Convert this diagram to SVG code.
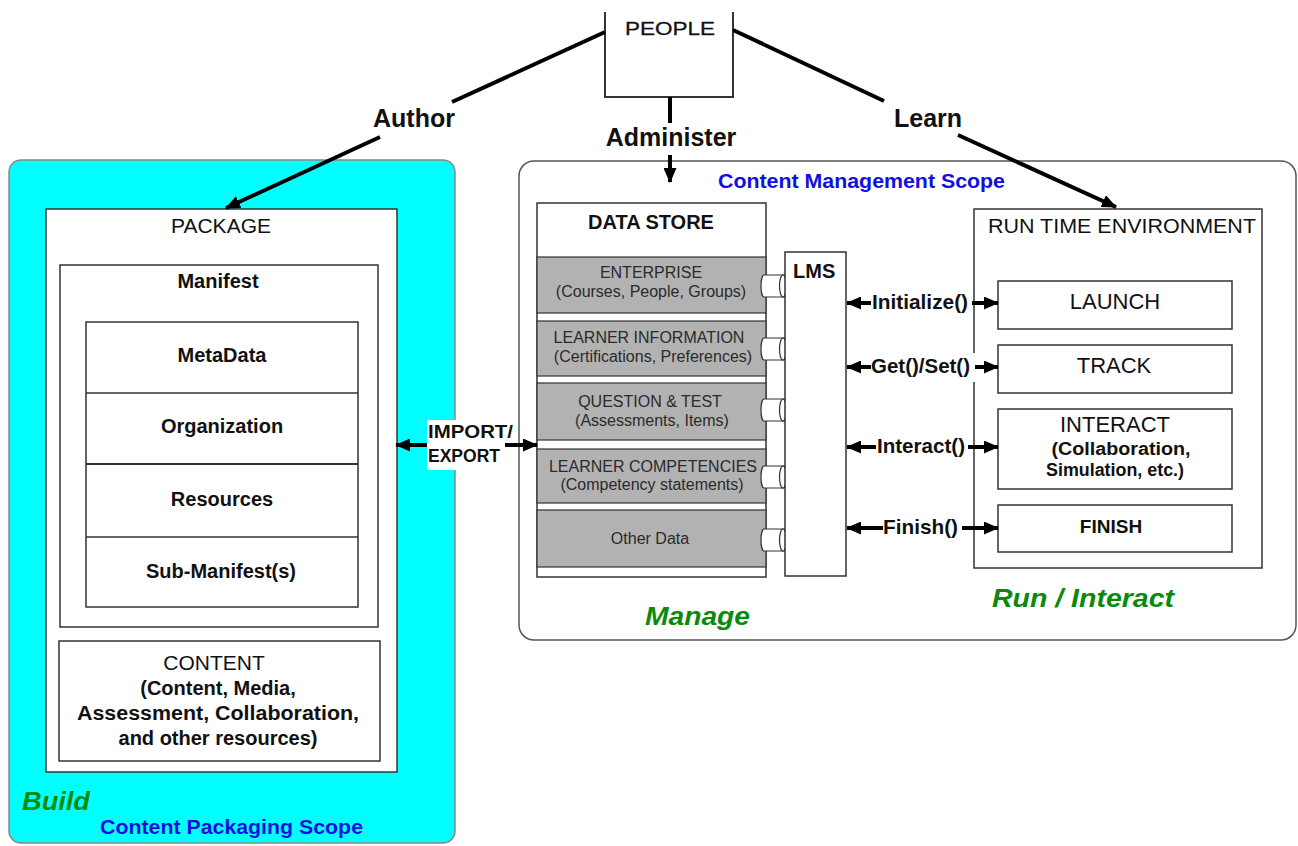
<svg xmlns="http://www.w3.org/2000/svg" width="1298" height="846" viewBox="0 0 1298 846">
<defs>
<style>
text{font-family:'Liberation Sans',Arial,sans-serif;fill:#111}
.b{font-weight:bold}
.box{fill:#fff;stroke:#333;stroke-width:1.5}
.band{fill:#b2b2b2;stroke:#333;stroke-width:1.2}
.ds{font-size:16px;fill:#2a2a2a;text-anchor:middle}
.c{text-anchor:middle}
.big{font-size:25px;font-weight:bold;text-anchor:middle}
.api{font-size:21px;font-weight:bold}
.green{fill:#0a8a0a;font-weight:bold;font-style:italic}
.blue{fill:#1010e0;font-weight:bold}
.thick{stroke:#000;stroke-width:4;fill:none}
.arr{stroke:#000;stroke-width:4;fill:none}
.cyl{fill:#fff;stroke:#333;stroke-width:1.2}
</style>
<marker id="ah" viewBox="0 0 15 13" refX="14" refY="6.5" markerWidth="15" markerHeight="13" markerUnits="userSpaceOnUse" orient="auto">
<path d="M0,0 L15,6.5 L0,13 z" fill="#000"/>
</marker>
</defs>
<rect width="1298" height="846" fill="#fff"/>

<g id="packaging-scope">
<rect x="9" y="160" width="446" height="683" rx="12" fill="#00ffff" stroke="#888" stroke-width="1.5"/>
<text x="22" y="810" class="green" font-size="25" textLength="68" lengthAdjust="spacingAndGlyphs">Build</text>
<text x="100" y="834" class="blue" font-size="20" textLength="263" lengthAdjust="spacingAndGlyphs">Content Packaging Scope</text>
</g>

<g id="management-scope">
<rect x="519" y="161" width="777" height="479" rx="15" fill="#fff" stroke="#555" stroke-width="1.5"/>
<text x="718" y="188" class="blue" font-size="20" textLength="287" lengthAdjust="spacingAndGlyphs">Content Management Scope</text>
<text x="645" y="625" class="green" font-size="26" textLength="105" lengthAdjust="spacingAndGlyphs">Manage</text>
<text x="992" y="607" class="green" font-size="25" textLength="182" lengthAdjust="spacingAndGlyphs">Run / Interact</text>
</g>

<g id="people">
<path d="M605,12 L605,97 L733,97 L733,12" fill="#fff" stroke="#333" stroke-width="2"/>
<text x="625" y="35" font-size="19" textLength="90" lengthAdjust="spacingAndGlyphs" stroke="#111" stroke-width="0.3">PEOPLE</text>
</g>

<g id="package">
<rect class="box" x="46" y="209" width="351" height="563"/>
<text x="221" y="233" class="c" font-size="21">PACKAGE</text>
</g>

<g id="manifest">
<rect class="box" x="60" y="265" width="318" height="362"/>
<text x="218" y="288" class="c b" font-size="20">Manifest</text>
</g>

<g id="manifest-items">
<rect class="box" x="86" y="322" width="272" height="285"/>
<line x1="86" y1="393" x2="358" y2="393" stroke="#333" stroke-width="1.5"/>
<line x1="86" y1="464" x2="358" y2="464" stroke="#333" stroke-width="2"/>
<line x1="86" y1="537" x2="358" y2="537" stroke="#333" stroke-width="1.5"/>
<text x="222" y="362" class="c b" font-size="20">MetaData</text>
<text x="222" y="433" class="c b" font-size="20">Organization</text>
<text x="222" y="506" class="c b" font-size="20">Resources</text>
<text x="221" y="578" class="c b" font-size="20">Sub-Manifest(s)</text>
</g>

<g id="content">
<rect class="box" x="59" y="641" width="321" height="120"/>
<text x="214" y="670" class="c" font-size="21">CONTENT</text>
<text x="218" y="695" class="c b" font-size="20">(Content, Media,</text>
<text x="218" y="720" class="c b" font-size="20" textLength="282" lengthAdjust="spacingAndGlyphs">Assessment,  Collaboration,</text>
<text x="218" y="745" class="c b" font-size="20">and other resources)</text>
</g>

<g id="data-store">
<rect class="box" x="537" y="203" width="229" height="374"/>
<text x="651" y="229" class="c b" font-size="20">DATA STORE</text>
<rect class="band" x="537" y="257" width="229" height="56"/>
<rect class="band" x="537" y="321" width="229" height="55"/>
<rect class="band" x="537" y="383" width="229" height="57"/>
<rect class="band" x="537" y="449" width="229" height="54"/>
<rect class="band" x="537" y="510" width="229" height="57"/>
<text x="651" y="278" class="ds">ENTERPRISE</text>
<text x="651" y="297" class="ds">(Courses, People, Groups)</text>
<text x="649" y="343" class="ds">LEARNER INFORMATION</text>
<text x="653" y="362" class="ds">(Certifications, Preferences)</text>
<text x="650" y="407" class="ds">QUESTION &amp; TEST</text>
<text x="652" y="426" class="ds">(Assessments, Items)</text>
<text x="653" y="472" class="ds">LEARNER COMPETENCIES</text>
<text x="652" y="490" class="ds">(Competency statements)</text>
<text x="650" y="544" class="ds" font-size="15">Other Data</text>
</g>

<g id="lms-links">
<path class="cyl" d="M764,275 L784,275 L784,297 L764,297 A3,11 0 0 1 764,275 z"/>
<ellipse class="cyl" cx="783" cy="286" rx="3.5" ry="11"/>
<path class="cyl" d="M764,338 L784,338 L784,360 L764,360 A3,11 0 0 1 764,338 z"/>
<ellipse class="cyl" cx="783" cy="349" rx="3.5" ry="11"/>
<path class="cyl" d="M764,399 L784,399 L784,421 L764,421 A3,11 0 0 1 764,399 z"/>
<ellipse class="cyl" cx="783" cy="410" rx="3.5" ry="11"/>
<path class="cyl" d="M764,466 L784,466 L784,488 L764,488 A3,11 0 0 1 764,466 z"/>
<ellipse class="cyl" cx="783" cy="477" rx="3.5" ry="11"/>
<path class="cyl" d="M764,529 L784,529 L784,551 L764,551 A3,11 0 0 1 764,529 z"/>
<ellipse class="cyl" cx="783" cy="540" rx="3.5" ry="11"/>
</g>

<g id="lms">
<rect class="box" x="785" y="252" width="61" height="324"/>
<text x="793" y="278" class="b" font-size="20">LMS</text>
</g>

<g id="rte">
<rect class="box" x="974" y="209" width="288" height="359"/>
<text x="1122" y="233" class="c" font-size="21" textLength="268" lengthAdjust="spacingAndGlyphs">RUN TIME ENVIRONMENT</text>
</g>

<g id="launch">
<rect class="box" x="998" y="281" width="234" height="48"/>
<text x="1115" y="309" class="c" font-size="22">LAUNCH</text>
</g>
<g id="track">
<rect class="box" x="998" y="345" width="234" height="48"/>
<text x="1114" y="373" class="c" font-size="22">TRACK</text>
</g>
<g id="interact">
<rect class="box" x="998" y="409" width="234" height="80"/>
<text x="1115" y="432" class="c" font-size="22">INTERACT</text>
<text x="1121" y="455" class="c b" font-size="18" textLength="139" lengthAdjust="spacingAndGlyphs">(Collaboration,</text>
<text x="1115" y="476" class="c b" font-size="18" textLength="138" lengthAdjust="spacingAndGlyphs">Simulation, etc.)</text>
</g>
<g id="finish">
<rect class="box" x="998" y="505" width="234" height="47"/>
<text x="1111" y="533" class="c b" font-size="19">FINISH</text>
</g>

<g id="connectors">
<line class="thick" x1="605" y1="32" x2="452" y2="102"/>
<line class="arr" x1="380" y1="137" x2="226" y2="208" marker-end="url(#ah)"/>
<text x="414" y="127" class="big">Author</text>
<line class="thick" x1="670" y1="97" x2="670" y2="123" stroke-width="3.5"/>
<text x="671" y="146" class="big">Administer</text>
<line class="arr" x1="670" y1="155" x2="670" y2="182" marker-end="url(#ah)"/>
<line class="thick" x1="733" y1="30" x2="884" y2="101"/>
<text x="928" y="127" class="big">Learn</text>
<line class="arr" x1="958" y1="135" x2="1116" y2="207" marker-end="url(#ah)"/>
<rect x="427" y="420" width="89" height="50" fill="#fff"/>
<text x="428" y="438" class="b" font-size="18" textLength="85" lengthAdjust="spacingAndGlyphs">IMPORT/</text>
<text x="428" y="462" class="b" font-size="18" textLength="72" lengthAdjust="spacingAndGlyphs">EXPORT</text>
<line class="arr" x1="427" y1="445" x2="396" y2="445" marker-end="url(#ah)"/>
<line class="arr" x1="505" y1="445" x2="537" y2="445" marker-end="url(#ah)"/>
<rect x="869" y="290" width="100" height="26" fill="#fff"/>
<text x="872" y="309" class="api" textLength="96" lengthAdjust="spacingAndGlyphs">Initialize()</text>
<line class="arr" x1="871" y1="303" x2="847" y2="303" marker-end="url(#ah)"/>
<line class="arr" x1="972" y1="303" x2="998" y2="303" marker-end="url(#ah)"/>
<rect x="869" y="353" width="108" height="29" fill="#fff"/>
<text x="871" y="373" class="api" textLength="99" lengthAdjust="spacingAndGlyphs">Get()/Set()</text>
<line class="arr" x1="871" y1="367" x2="847" y2="367" marker-end="url(#ah)"/>
<line class="arr" x1="975" y1="367" x2="998" y2="367" marker-end="url(#ah)"/>
<rect x="875" y="434" width="92" height="26" fill="#fff"/>
<text x="877" y="453" class="api" textLength="88" lengthAdjust="spacingAndGlyphs">Interact()</text>
<line class="arr" x1="876" y1="447" x2="847" y2="447" marker-end="url(#ah)"/>
<line class="arr" x1="968" y1="447" x2="998" y2="447" marker-end="url(#ah)"/>
<rect x="882" y="514" width="78" height="26" fill="#fff"/>
<text x="883" y="534" class="api" textLength="75" lengthAdjust="spacingAndGlyphs">Finish()</text>
<line class="arr" x1="883" y1="528" x2="847" y2="528" marker-end="url(#ah)"/>
<line class="arr" x1="962" y1="528" x2="998" y2="528" marker-end="url(#ah)"/>
</g>
</svg>
